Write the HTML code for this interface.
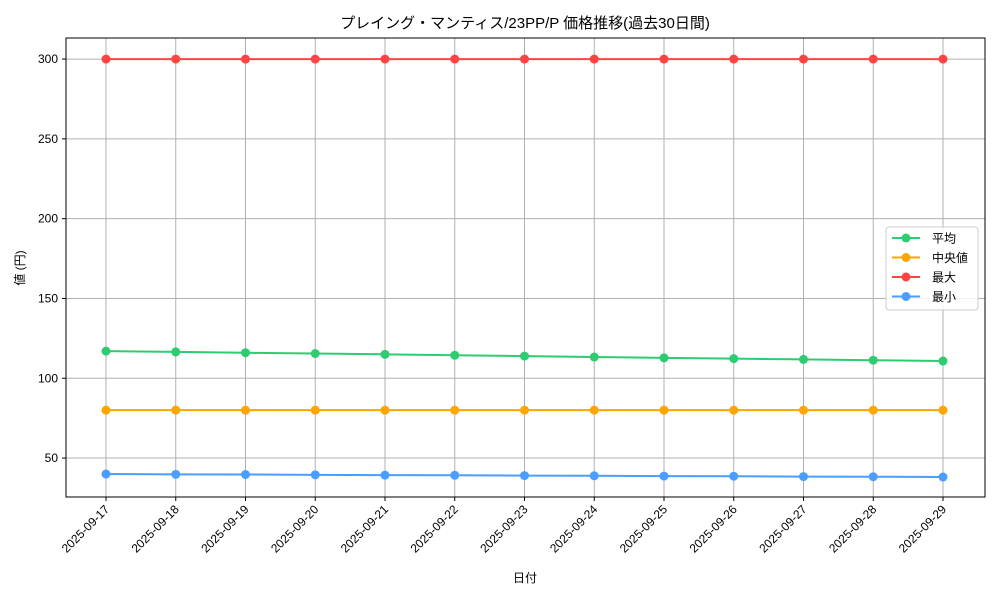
<!DOCTYPE html>
<html><head><meta charset="utf-8"><style>
body{margin:0;background:#fff;}
svg text{font-family:"Liberation Sans","Noto Sans CJK JP",sans-serif;}
</style></head><body>
<svg id="chart" width="1000" height="600" xmlns="http://www.w3.org/2000/svg">
<rect width="1000" height="600" fill="#fff"/>
<text x="525" y="28" font-size="15" text-anchor="middle">プレイング・マンティス/23PP/P 価格推移(過去30日間)</text>
<g id="grid"></g>
<g id="axes"></g>
<g id="series"></g>
<rect x="66" y="38" width="919" height="459" fill="none" stroke="#000" stroke-width="1"/>
<text x="525" y="582" font-size="12" text-anchor="middle">日付</text>
<text x="24" y="268" font-size="12" text-anchor="middle" transform="rotate(-90 24 268)">値 (円)</text>
<g id="legend">
<rect x="886" y="227" width="92" height="83" fill="#fff" fill-opacity="0.85" stroke="#ccc" rx="3"/>
</g>
</svg>
<script>
const dates=["2025-09-17","2025-09-18","2025-09-19","2025-09-20","2025-09-21","2025-09-22","2025-09-23","2025-09-24","2025-09-25","2025-09-26","2025-09-27","2025-09-28","2025-09-29"];
const avgVals=[117.0,116.5,116.0,115.5,115.0,114.4,113.9,113.3,112.8,112.3,111.8,111.3,110.8];
const medVals=[80,80,80,80,80,80,80,80,80,80,80,80,80];
const maxVals=[300,300,300,300,300,300,300,300,300,300,300,300,300];
const minVals=[40.0,39.8,39.7,39.5,39.3,39.2,39.0,38.9,38.7,38.6,38.4,38.3,38.1];
const yTicks=[50,100,150,200,250,300];
const seriesNames=["平均","中央値","最大","最小"];
const NS="http://www.w3.org/2000/svg";
const X0=106,X1=943,yMin=25.6,yMax=313.2,PT=38,PB=497;
function xs(i){return X0+(X1-X0)*i/(dates.length-1);}
function ys(v){return PB-(v-yMin)/(yMax-yMin)*(PB-PT);}
function mk(t,a,p){const e=document.createElementNS(NS,t);for(const k in a)e.setAttribute(k,a[k]);p.appendChild(e);return e;}
const grid=document.getElementById('grid'),axes=document.getElementById('axes'),ser=document.getElementById('series'),leg=document.getElementById('legend');
yTicks.forEach(v=>{const y=ys(v);
const g=mk('line',{x1:66,x2:985,y1:y,y2:y,stroke:'#b0b0b0','stroke-width':1},grid);


mk('line',{x1:62,x2:66,y1:y,y2:y,stroke:'#000'},axes);
const t=mk('text',{x:58,y:y+4,'font-size':12,'text-anchor':'end'},axes);t.textContent=v;

});
dates.forEach((d,i)=>{const x=xs(i);
const g=mk('line',{x1:x,x2:x,y1:38,y2:497,stroke:'#b0b0b0','stroke-width':1},grid);


mk('line',{x1:x,x2:x,y1:497,y2:501,stroke:'#000'},axes);
const t=mk('text',{x:x+4,y:510,'font-size':12,'text-anchor':'end',transform:`rotate(-45 ${x+4} 510)`},axes);t.textContent=d;

});
const all=[avgVals,medVals,maxVals,minVals],cols=["#2ecc71","#ffa500","#ff4444","#4a9eff"],keys=["avg","median","max","min"];
all.forEach((vals,s)=>{
const pl=mk('polyline',{points:vals.map((v,i)=>xs(i)+','+ys(v)).join(' '),fill:'none',stroke:cols[s],'stroke-width':2},ser);


vals.forEach((v,i)=>{const c=mk('circle',{cx:xs(i),cy:ys(v),r:4.5,fill:cols[s]},ser);

});
const ly=238+s*19.5;
mk('line',{x1:892,x2:920,y1:ly,y2:ly,stroke:cols[s],'stroke-width':2},leg);
mk('circle',{cx:906,cy:ly,r:4.5,fill:cols[s]},leg);
const t=mk('text',{x:932,y:ly+4.5,'font-size':12},leg);t.textContent=seriesNames[s];

});
</script>
</body></html>
